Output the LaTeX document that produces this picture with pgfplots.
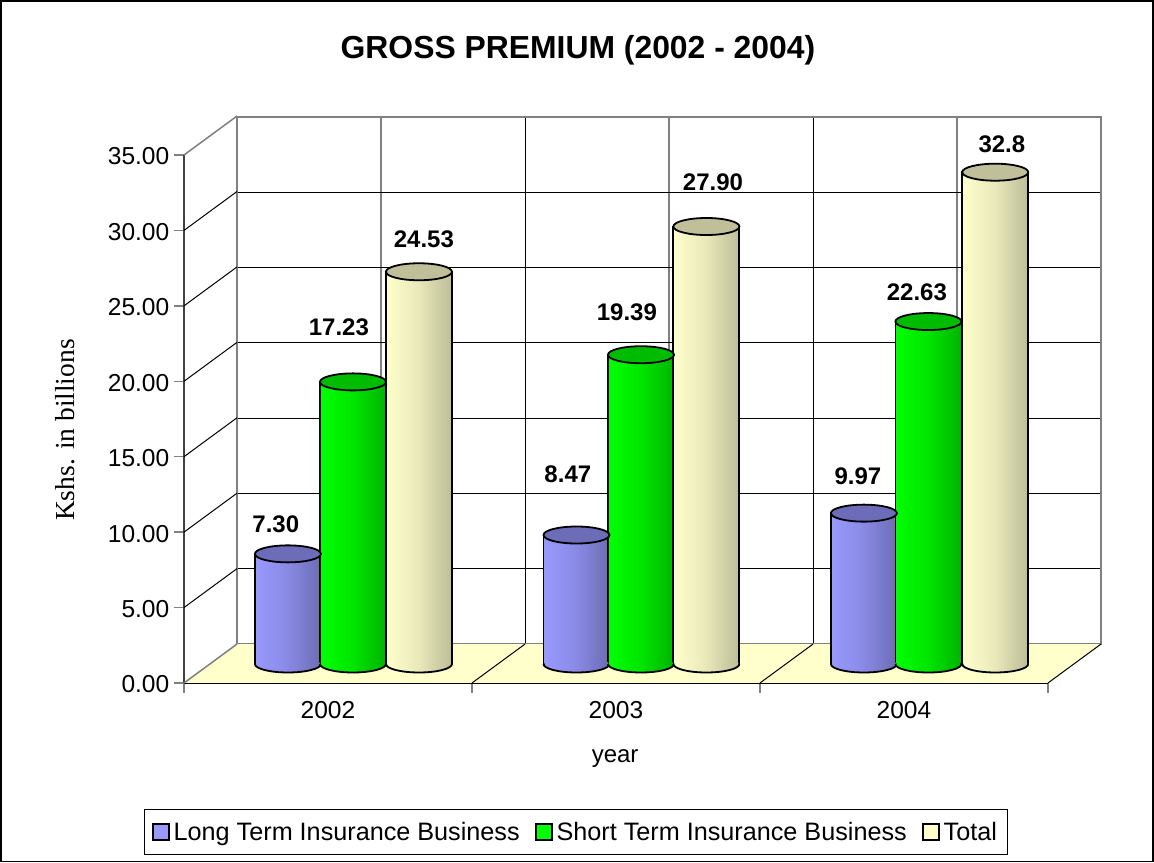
\documentclass[border=0pt]{standalone}
\usepackage{fontspec}
\setmainfont{Liberation Sans}
\newfontfamily\serifpart{Liberation Serif}
\usepackage{pgfplots}
\usepackage{pgfplotstable}
\pgfplotsset{compat=1.18}

% one reference pixel
\newlength{\px}
\setlength{\px}{0.75pt}

\definecolor{longA}{HTML}{9999FF}
\definecolor{longB}{HTML}{6C6CB4}
\definecolor{longT}{HTML}{6C6CB8}
\definecolor{shortA}{HTML}{00FF00}
\definecolor{shortB}{HTML}{00B400}
\definecolor{shortT}{HTML}{00BC00}
\definecolor{totalA}{HTML}{FFFFCC}
\definecolor{totalB}{HTML}{BDBD98}
\definecolor{totalT}{HTML}{BFBF99}
\definecolor{wallgrey}{HTML}{808080}

% labels sit at their own spots, the drawn bars do not quite follow them
\pgfplotstableread{
x y lab
0.232 9.28 7.30
0.451 22.33 17.23
0.746 28.16 24.53
1.246 12.59 8.47
1.451 23.33 19.39
1.750 31.94 27.90
2.253 12.46 9.97
2.458 24.65 22.63
2.753 34.46 32.8
}\labtab

\pgfdeclareplotmark{cyltop}{%
  \pgfpathellipse{\pgfpointorigin}{\pgfqpoint{33\px}{0pt}}{\pgfqpoint{0pt}{8.5\px}}%
  \pgfusepathqfillstroke}
\newcommand{\cylbottom}[3]{%
  \pgfdeclareplotmark{#1}{%
    \path[draw=none,left color=#2,right color=#3,middle color=#2!65!#3] (0,0) ellipse[x radius=32.2\px,y radius=8\px];
    \draw (-33\px,0) arc[start angle=180,end angle=360,x radius=33\px,y radius=8.5\px];}}
\cylbottom{botlong}{longA}{longB}
\cylbottom{botshort}{shortA}{shortB}
\cylbottom{bottotal}{totalA}{totalB}

% x, height, colour prefix, bottom mark
\newcommand{\cyl}[4]{%
  \addplot[ybar, bar width=66\px, bar shift=0pt, draw=black, line width=1.8\px, forget plot,
    left color=#3A, right color=#3B, middle color=#3A!65!#3B] coordinates {(#1,#2)};
  \addplot[only marks, line width=1.8\px, forget plot, mark=#4] coordinates {(#1,0)};
  \addplot[only marks, line width=1.8\px, forget plot, mark=cyltop,
    mark options={fill=#3T, draw=black}] coordinates {(#1,#2)};
}

\pgfplotsset{
  flat/.style={scale only axis, width=864\px, height=528\px,
    xmin=0, xmax=3, ymin=0, ymax=35, clip=false},
}

\begin{document}
\begin{tikzpicture}
\path[use as bounding box] (0,0) rectangle (1154\px,863\px);
\draw[line width=1.5\px] (0.8\px,1.5\px) rectangle (1152.8\px,862.2\px);

% back wall
\begin{axis}[flat, at={(237\px,219\px)}, anchor=south west, height=527\px,
  xtick={0,1,2,3}, minor xtick={0.5,1.5,2.5},
  ytick={0,5,...,35}, xticklabels={}, yticklabels={},
  tick style={draw=none}, minor tick style={draw=none},
  xmajorgrids, xminorgrids, ymajorgrids,
  major grid style={black, line width=1\px},
  minor grid style={wallgrey, line width=1.2\px},
  axis line style={wallgrey, line width=2\px}]
\addplot[draw=none] coordinates {(0,0) (3,35)};
\end{axis}

% floor, side wall, front axes and all the text
\begin{axis}[flat, at={(184\px,180\px)}, anchor=south west,
  axis x line=bottom, axis y line=left, axis line style={-},
  x axis line style={black, line width=1.5\px},
  y axis line style={black!75, line width=1.5\px},
  xtick={0.5,1.5,2.5}, xticklabels={2002,2003,2004},
  minor xtick={0,1,2,3}, ytick={0,5,...,35},
  major x tick style={draw=none},
  minor tick length=10\px, tick align=outside,
  minor x tick style={wallgrey, line width=1.4\px},
  y tick style={wallgrey, line width=1.4\px}, major tick length=10\px,
  tick label style={font=\fontsize{18.4pt}{20pt}\selectfont},
  xticklabel style={yshift=-4\px},
  /pgf/number format/assume math mode=true,
  yticklabel style={yshift=-1.5\px, /pgf/number format/fixed, /pgf/number format/fixed zerofill, /pgf/number format/precision=2},
  title={GROSS PREMIUM (2002 - 2004)},
  every axis title shift=0pt,
  title style={at={(axis description cs:0.456,1.1989)}, anchor=center, font=\fontsize{23.9pt}{26pt}\selectfont\bfseries},
  xlabel={year},
  xlabel style={at={(axis description cs:0.499,-0.1435)}, anchor=center, font=\fontsize{18pt}{20pt}\selectfont},
  ylabel={Kshs. in billions},
  ylabel style={at={(axis description cs:-0.1377,0.479)}, anchor=center, font=\fontsize{20.6pt}{22pt}\selectfont\serifpart}]
\addplot[fill=totalA, draw=none, forget plot] coordinates {(0,0) (3,0) (3.184,2.58) (0.184,2.58)} -- cycle;
\addplot[black, line width=1\px, unbounded coords=jump, forget plot] coordinates {
  (0,5) (0.184,7.58) (0,nan)
  (0,10) (0.184,12.58) (0,nan)
  (0,15) (0.184,17.58) (0,nan)
  (0,20) (0.184,22.58) (0,nan)
  (0,25) (0.184,27.58) (0,nan)
  (0,30) (0.184,32.58) (0,nan)
  (1,0) (1.184,2.58) (0,nan)
  (2,0) (2.184,2.58) (0,nan)
  (3,0) (3.184,2.58)};
\addplot[wallgrey, line width=1.5\px, unbounded coords=jump, forget plot] coordinates {
  (0,0) (0.184,2.58) (0,nan)
  (0,35) (0.184,37.58)};
\end{axis}

% cylinders, their labels, the legend
\begin{axis}[flat, at={(209\px,199\px)}, anchor=south west, hide axis,
  legend columns=3,
  legend style={at={(axis description cs:0.4248,-0.318)}, anchor=center,
    draw=black, line width=1\px, inner xsep=8\px, inner ysep=10\px,
    font=\fontsize{18.9pt}{20pt}\selectfont,
    /tikz/every even column/.append style={column sep=13\px},
    /tikz/every odd column/.append style={column sep=1\px}},
  legend cell align=left,
  legend image code/.code={\draw[#1, draw=black, line width=1.6\px] (0,-8\px) rectangle (16\px,8\px);}]
\addlegendimage{fill=longA}
\addlegendentry{Long Term Insurance Business}
\addlegendimage{fill=shortA}
\addlegendentry{Short Term Insurance Business}
\addlegendimage{fill=totalA}
\addlegendentry{Total}

\cyl{0.274}{7.3}{long}{botlong}
\cyl{1.276}{8.55}{long}{botlong}
\cyl{2.274}{10.0}{long}{botlong}
\cyl{0.500}{18.7}{short}{botshort}
\cyl{1.500}{20.5}{short}{botshort}
\cyl{2.498}{22.7}{short}{botshort}
\cyl{0.729}{26.0}{total}{bottotal}
\cyl{1.727}{29.0}{total}{bottotal}
\cyl{2.730}{32.6}{total}{bottotal}

\addplot[only marks, mark=none, forget plot, point meta=explicit symbolic,
  nodes near coords, nodes near coords align={anchor=center},
  every node near coord/.append style={font=\fontsize{18pt}{20pt}\selectfont\bfseries, text=black}]
  table[x=x, y=y, meta=lab] {\labtab};
\end{axis}
\end{tikzpicture}
\end{document}
